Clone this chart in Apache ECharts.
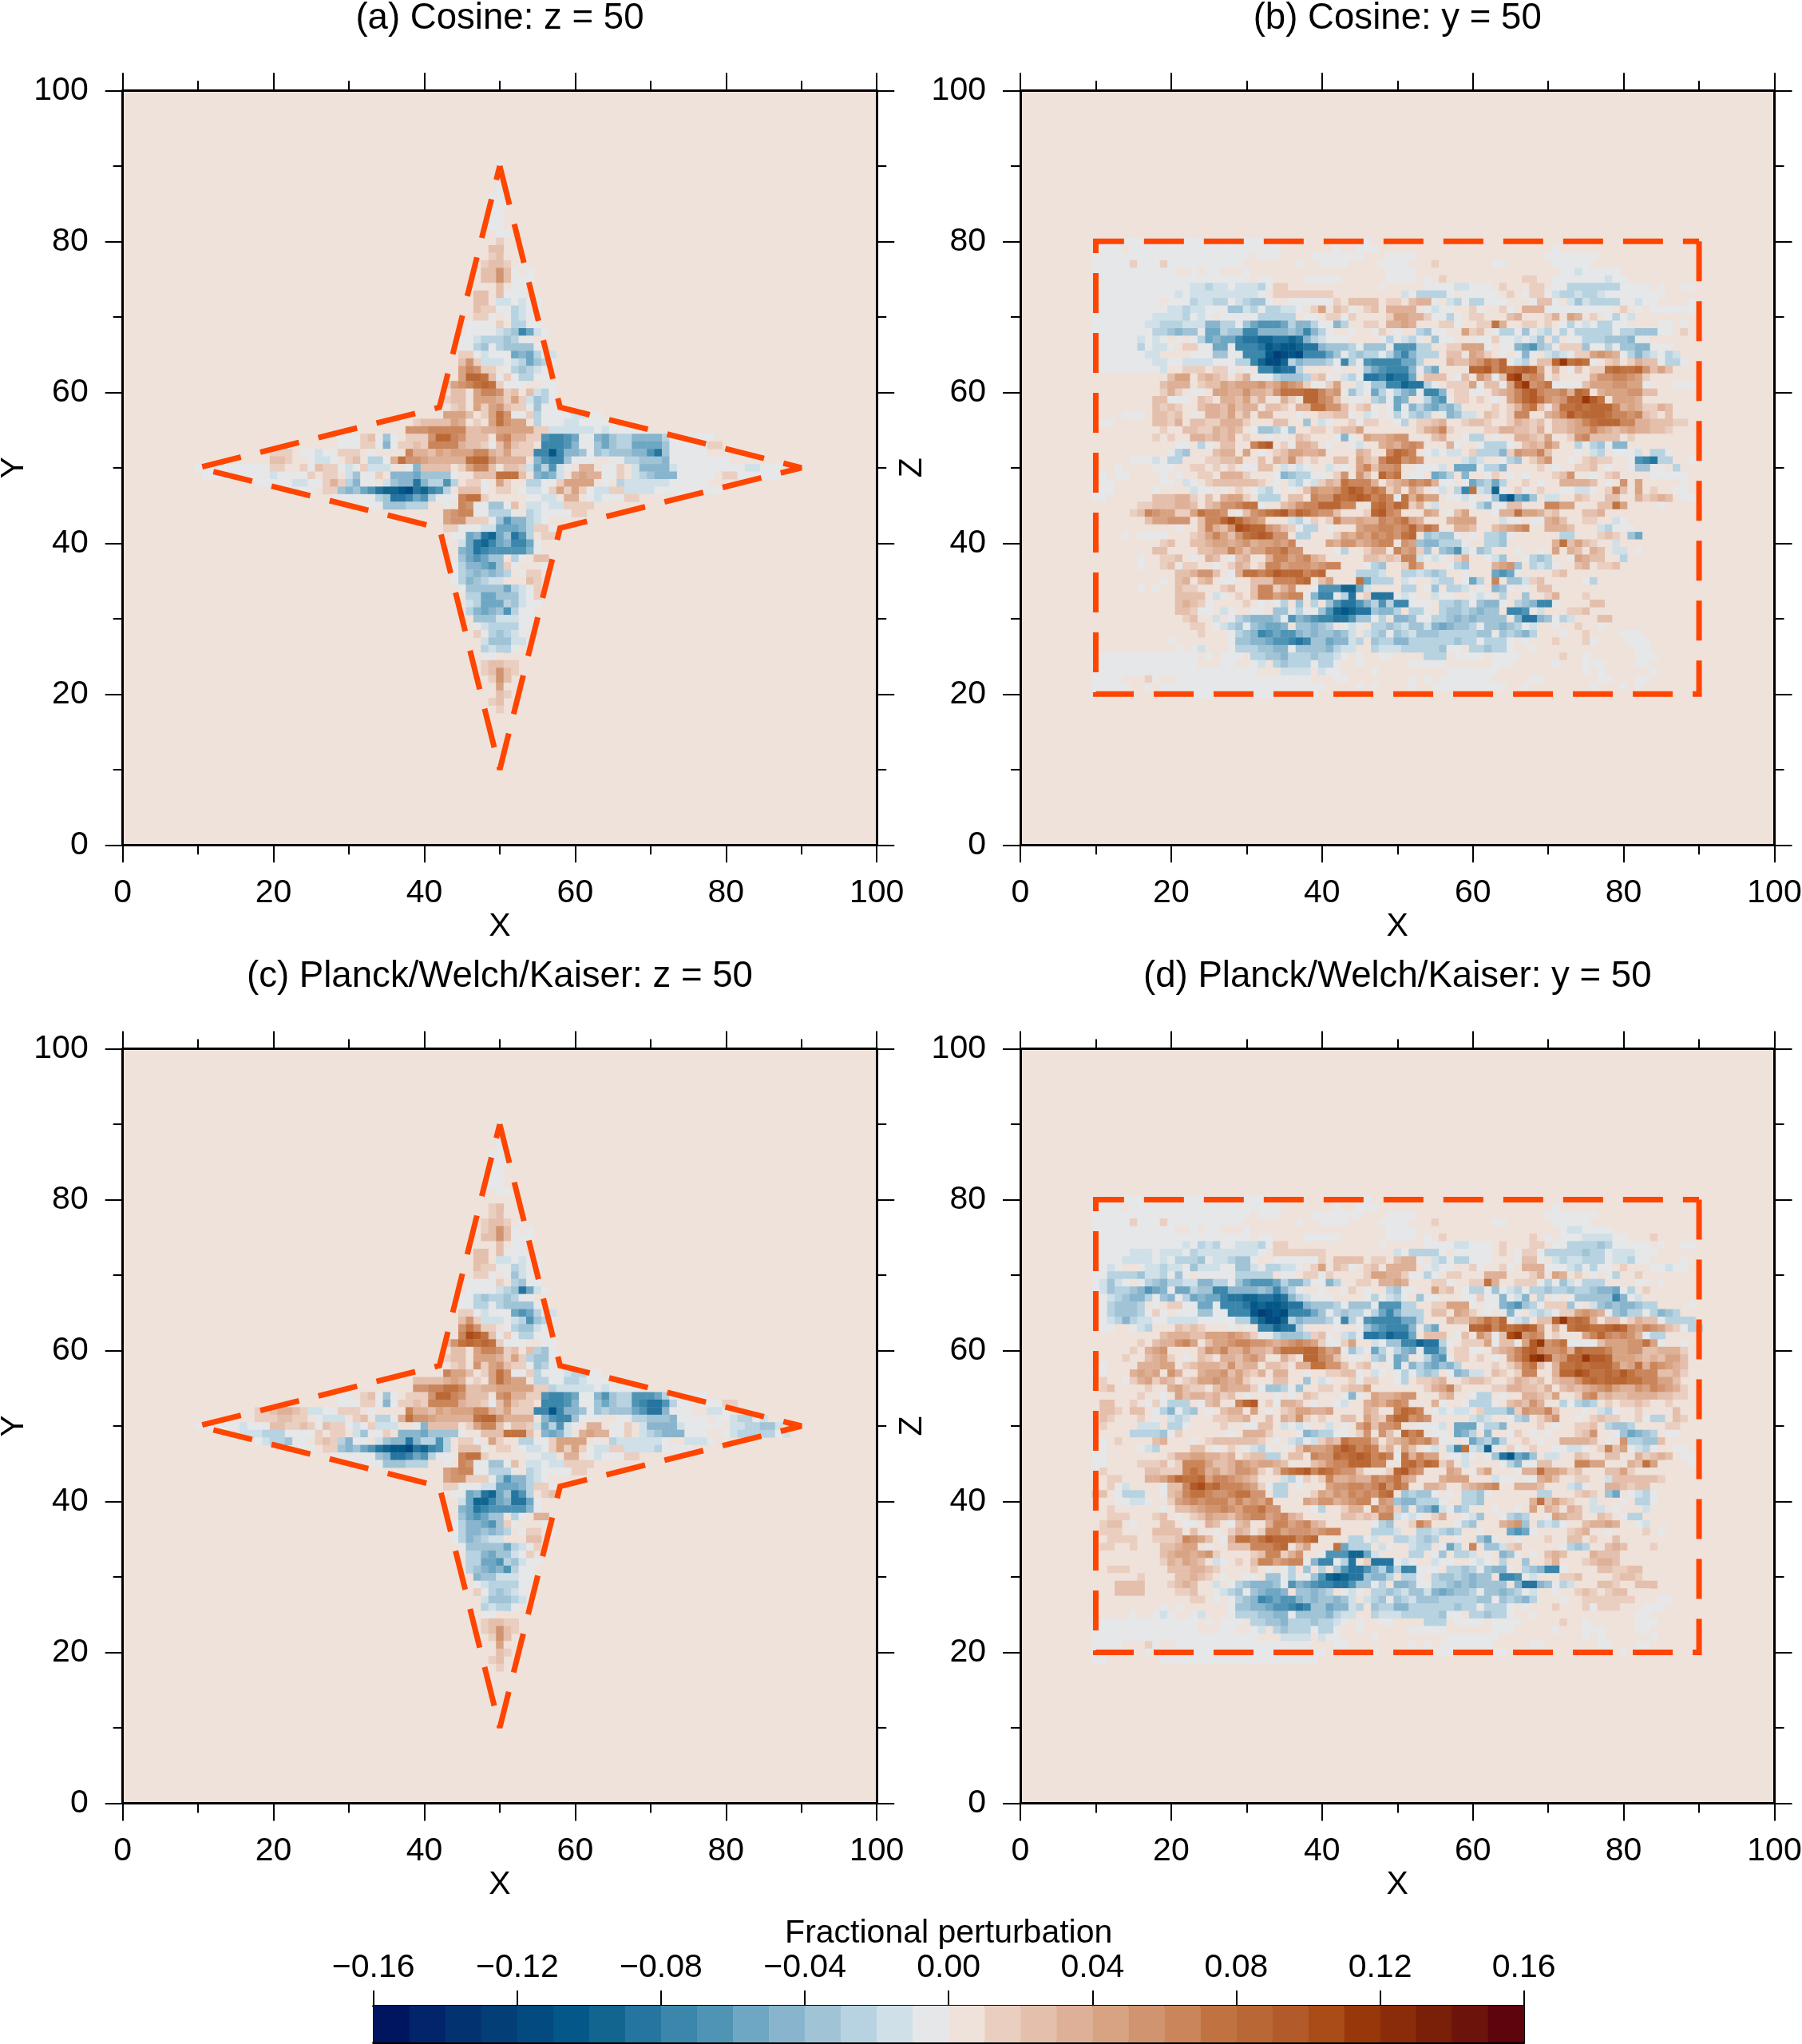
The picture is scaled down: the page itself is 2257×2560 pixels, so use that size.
<!DOCTYPE html>
<html><head><meta charset="utf-8"><style>html,body{margin:0;padding:0;background:#fff}#c{width:2257px;height:2560px}</style>
<script src="https://cdn.jsdelivr.net/npm/echarts@6/dist/echarts.min.js"></script></head><body><div id="c"></div>
<script>
const levelColors=["#00155F","#02246B","#033270","#033E77","#024A7F","#045789","#11658F","#2675A0","#3B86AB","#5094B5","#6EA7C3","#88B5CD","#A0C3D6","#B7D2E0","#CFE0E8","#E6E7E9","#EEE2DB","#EACEC0","#E4BFAC","#DEB097","#D8A382","#D19470","#CA855A","#C07340","#B96734","#B25A29","#A94C18","#98380A","#8A2C0A","#7A1F08","#6C130C","#5E040C"];
const negCodes=".abcdefghijklmno";   // -0.005, -0.015, ...
const posCodes=",ABCDEFGHIJKLMNO";   // +0.005, +0.015, ...
const titles=["(a) Cosine: z = 50","(b) Cosine: y = 50","(c) Planck/Welch/Kaiser: z = 50","(d) Planck/Welch/Kaiser: y = 50"];
const starOutline=[[50,90],[58,58],[90,50],[58,42],[50,10],[42,42],[10,50],[42,58],[50,90]];
const rectOutline=[[90,80],[90,20],[10,20],[10,80],[90,80]];

// star rows run from y=90 down; "n|codes": first code is at x=10+n
const starA=[
"40|.","40|.","40|.","40|..","39|...","39|...","39|..","39|..","39|..","40|..",
"40|A","39|BB","39|AB,","38|ABBA,.","38|BBEB.,.","38|BBEB...","38|,,B,..","37|BB,B...","37|BB,aa.a..","37|BAA..ba..",
"37|AA.,.ba.","36|....A,bb..","36|....abcgea.","34|...abbbcb..","34|...bc.bcccc.","35|AA.a...edeb.a","35|BEAaaa.abecb.","35|DFEAA,.bcba.","35|DHHGB.A.bb..","33|ADEFGHGA...,,..",
"33|,BB,DFFEAB,Bab.","33|ABB,DDDCADAacb.","32|.,AB,DADEBAA.c..","33|DDDB,ADGE..Ab....aa..","29|ABBBBDC,A,DGEDD,b...aa....,","28|EEEFFFFFBBCCDDDDDAAaaaaaa.a.....",
"19|...AB.c.,AAAEHHFEBBB,EFCCAAfggfe..decbbddddb......",
"19|...AA.d.AABAFFFFCBBA.BEBAA,gggfd..cecbbeeeec.....AA",
"10|AAA,..a..AAA,.,,,,FCCBDCDDDFFCBDAAAggjgddc.cbcccddfhc.....",
"10|BBA,,.aa.,AB,bb.CGEEDCCCCCGHHECCCC,dfggc...,,..bbcccd........",
"0|..........AA,,A.BAA.a.Aaaa,,.dBBBB,ADFFB,BBAaebfa.,CC,..A,adddda.........aa....",
"1|.........a....A,AA,ac..A,dddecccc.,,BBBGGGB,deda,CDCC..A,abcddd.....,AA......",
"8|.....aa..ACAbd..,acddhdbbfb,AA.,DA,,bb..ADDDD,.,baaaaaa.....,",
"13|...,AAcdcefhiijkhigfb,BBB.,AA,.aa.ADADA.aaAAaaaa.........,",
"18|......bchhgefb...FGGA,,,,,..aa,CC,.a...AA,,,",
"21|....cccbbb,,.,FE..cc.B,aa.aaAAAA,",
"32|,DEFF..bbb.,ba....AA",
"33|DEEAAA.cfddba.,",
"33|AA...aaeeedbAA.",
"34|..edhiechfb,AA",
"35|aehigedgge.",
"35|dehgfffffd.",
"35|cefecc,b.,BB",
"34|.bddefcA.,,,.",
"34|.bcdcdcb,.AA,.",
"34|.bdcbaa,,,BA",
"35|.ccccceba.A",
"36|bbeeccca.A",
"36|abeeebca..",
"36|bdedcfb..",
"37|cccaaa..",
"37|.abbbb..",
"37|A.bcba.",
"38|acccaa.",
"38|babb.",
"38|..,",
"38|ABBAA",
"38|ABEBA",
"39|AEB",
"39|,D,",
"39|,BA",
"39|AB",
"40|A"];

const starC=[
"40|.","40|.","40|.","40|..","39|...","39|...","39|..","39|..","39|..","40|..",
"40|,","39|AB","39|AB,","38|ABBA,.","38|ABEB.,.","38|BBEB...","38|,,B,..","37|BB,B...","37|BB,aa.a..","37|BAA..ba..",
"37|AA.,.ca.","36|....A,bc..","36|....abchea.","34|...bcbbcb..","34|...bb.bcccc.","35|AA.a...efeb.a","35|BEAaaa.abfcb.","35|EGEAA,.bcca.","35|FJIGB.A.bb..","33|BEGHGHGA...,,..",
"33|,BB,DFFEAB,Bbc.","33|ABB,DDDCADAbcc.","32|.,AB,EADEBAA.cb.","33|FDDB,ADGE..Ab...abb..","29|BBBBCDC,A,DGEDD,bb..bba...,,","28|,EEFFGGFBBCCDDDDDAAbaaaaa.a....",
"19|..,AB.c.,AAAEHHFEBBB,EFCCAAfggfe..dfcbbfffeb.....,,",
"19|...AA.d.AABAFFFFCBBA.BEBAA,gggfd..cecbbfghhfb..,...AA",
"8|AABCCBAaa..AAA,.,,,,FCCBDCDDDFFCBDAAAggjgddc.cbcccefhhd...,,aa.",
"8|AAABBAA,.aaa,AB,bb.CGEEDCCCCCGHHECCCC,dfggc...,,..bbcccd....,..abb.a",
"0|......a...BBAABA.BAA.a.Aaaa,,.dBBBB,ADFFB,BBAaebfa.,CC,..A,adddda.....,aabbcca..",
"6|aaabbb....A,AA,ac..A,dddecccc.,,BBBGGGB,deda,CDCC..A,abcddd...,,.abbbbb.a",
"8|.abbc..,ABAbd..,acddhdbbfb,AA.,DA,,bb..ADDDD,.,baaaaaa.,,aaa.",
"13|...,AAcdcefhijjkhigfb,BBB.,AA,.aa.ADADA.aaAAaaaab....,",
"18|......cdhhgefb...FGGA,,,,,..aa,CC,.a...AA,,,",
"21|....cccbbb,,.,FE..cc.B,aa.aaAAAA,",
"32|,DEFF..bbb.,ba....AA",
"33|DEEAAA.cfddba.,",
"33|AA...aaeeedbAA.",
"34|..edhiechfb,AB",
"35|aeiigedhhe.",
"35|dehgfffffd.",
"35|cefecc,b.,CC",
"34|.bddefcA.,,,.",
"34|.bddcdcb,.AA,.",
"34|.bdcbaa,,,BB",
"35|.ccccceba.A",
"36|bbdecca.A",
"36|bbeefbca..",
"36|bcdedfb..",
"37|dccaaa..",
"37|.abbbb..",
"37|A.bcba.",
"38|acccba.",
"38|babb.",
"38|..,",
"38|ABBAA",
"38|ABEBA",
"39|AEB",
"39|,D,",
"39|,BA",
"39|AB",
"40|A"];

// rect rows run from z=80 down to z=20, first character is x=10
const rectB=[
".........................,,,,,,,.....,,,,,,,,,,,,,,,,,,,,,,,,,,.,,,,,,,,,,,,,,,,",
"....,....................,,,,,,,.,,...,,,,,,,,,,,,,,,,,,,,,,,.,,,,,,,,,,,,,,,,,,",
".....................,...,,,,.......,,,....,,,,,,,,,,,,,,,,,.......,,,,,,,,,,,,,,",
".....A...A..........,,,,,,,.,,....,,,,....,,,A,,,,,,,..,,,,,,.....,,,,,,,,,,,,,,",
"...........,,.,..,,,.,,,,,,,,,,,,,,,,,,....,,,,,,,,,,,,,,,,,,,..a.....,,,,,,,,,,",
".....................,..,,,,.....,,,,,,....,.,A,,,,,,,,,,AA,,.......a..,,,,,,,,,",
".............aabaa.aaab.AA,,,,,,,,,,,,.,,,,,....aa...,A,,,AA,..bbbbbbb....,.,,..",
"...........a.aaaaaaaaa.,AAAAAAAA,,,,,,,,,a.bbbb.,.....,A,.AA.abbabba........,,,,",
".........,...baabb.abcc.,,......A,BBBB,AA,BCC.,ab.bb...,,,.BB.,acabbbb..a..,,,,.",
"..........aabaa...ccab.bbaa.,AD,BA.,AB,CCCC,.a..,,A.,,A.,CCC.........,A,.,.......",
"........aaaab.a.,.....bbbbb,..,AA.A,,,,ADDCCA..b.,AA,,,BC,,,AC,DC,A,.b.a,,,,,,,,",
".......aabbbaaaddbb.cefffebddb..db,,AA,CCDC,,,AA.,,AAGC,,AA,A,.b.a.bb..,,,,..,.,,",
"........bbcdcc.eebccggddddcdgdb.,,.,,.A,.,,bc..,,DAB,.bb.c.ab.b.bbbbb.bbccc..,A,,",
"......a.a.,.,.bedeeghhiihhihdba...,,,,.b.ab.,c..,,,..A..a.ac,b,..bbbcccd..,,,,,,",
"......b.aa.,AA..ee.ggghjijjihhdcccb.ccc.fffbb,,AADDD.,..defcb.AAAc..b.ccdd...,,,,,.",
".......aa,,,,...cc..gggjlkjkgggec.bcbb.begdbbb,BB,DCA,.,.d.,aba.AADEDC.bdba.ba,,,,,",
"........aa..aaaa...bbgikkibdcccb.gb.fggggeeb,,,CBBDEGFH.ab,BBHKGHG.,AB,ACBB.bb.",
".........a,,AAA,AA.,.,ggihhb,,,,.,,.cefgggd.ce,,,,HHIFHGHIHD,C,.B,AAGHGGHEBDB,,,,.",
",,,,,,,,,,BDD,BCBA,AC...bcccbAB.,ab.hhgihhe,BBB,.B,EC.BJKEFE,A,,,,CEEFFEDA,,,",
",,,,,,,,,BCCC,ABBDCDDDECDFEDA..AD,,a.ccggihhb.,AAAD.BB.DIKEFG....BDDDEEDD.,,,...",
",,,,,,,,,ACA,..,DDCCECCBEGGGHHFDE.ca.eb.bde.ggd,AA..,BCDFHIFEEFCHG,CDDDEEBB,,,,",
",,,,,,,,BB...,BA,CCBDAC,,CA,HHFEB,..,bc.ed,.bef.AA,A,.,DFHIGEDEHHKIG,DDDC,,,,,",
",,,,,,,,BABA,,BCCBDBCC,BBA,CCGGEEB,AB.,.e.dbdecdb,,,,A,ACFGB,CGGHGHHHFCDCAACB,,",
",,,,...,BBAB,.,CCBDAC,CC,,,.,,AABB.,a.,.b.bcb,.dcaa,BA,AFF,,CDFIGHHHGFFEFBA,B,,",
"...,,,,,BBAC,BBAACCCA,,,BB,,c,a.,,A.AA,,.b,AABC,,ABBA,,ACBAB,BBCDFGHHHFFCCBBBAA",
",,,,,,,,,A,,BBAACBCB,.ccb.c,,AA,ABBD,,,,,,,ACDFA,,,,AACCBBAC,BBCDDFDCBCDCCBBA,,",
",,,,,,,,A,A,,CCBCBC,A,,.,.,BA,,,.d.,DCCDEE,,,BC,,.bb,.,,CCBAD,,AEFBBBB,A,,,,,,,",
",,,,,,,,,,,..,b.,BB,,FHI,A.CCB,.,,.a,,CDCEFE,,,C.,,.bbb.,BCBEC,,b.bc.dd,,,,,,,,,",
",,,,,,,,,,.bc,,,BCC,D,.,ABDDCCD,,,,CB,,FHGF,.a.aa,AbbbdAEDDFB,,,.,ab,...a,bb.,,,",
",,,,,...a.bb,,,AABBC,,B,CBEA,A,,BB,DBAFHHEFE,,,,,aba,,.bc,ACE,,.,ABAA,,.fghbb,,..",
".,,.,,,,...,,AA,A,A,..BB,a.a.,,a,.,DFBEEF,,...a,eee.bbd,,,,A,.,,AAB,.,,.cc..,b,,",
"..,..,,,,.,.,,AA,CCCA,,,.dcbb..,AE,EB,HFG,..,edb,d,,.A,.,.,,,ABE,,.,AB,,,,.....",
",..,,,,,,..,a.,ABBBBBBA,.,ab.aACBGFFFC,BCDFEFC..,.ecbeb,,A,.,,CCCCB,.,E,D,,,,,.",
"...,,,,,.,,,,a..,.,A,.ab.,.,BEDDEGIHFGFAC,DB,.a,bgGabi.,A.,A,,..aa.,AFB,D,A,,..",
"..,,,,,,BBBCCA,B,CDDA,bbb,BB,FEEHGHIHFGF.GCFDD,..a.,.chjefc,aa,,BA,,BB,,CABCB,...",
",,,,,,AABBBCCB,BCEEFGG.,,BCEFFHHHFF,,GHFHGAC,a,,,,.bd..BB,,,FFDD,,,BBGD,,,,.",
",,,,,ABFEDDAADGFFE,.BEFGHIFHGFEEB,,,AHIFE,,,DC,.BD,,,.CCGDDCAB,,,BBC,,,",
",,,,,,,BDDEEE,BFFHJHFED,,,ab.A,AFCCDCCFEFGDC,,,CDDD,,,a..,..CDB,,AA,,a.,,",
",,,,,,,,,,,.,,BFCBEJIHHEDBA.bb,.,,,DEEFFEFHEGF,,CCB,,BCDEF,,CCCB,,,ab...,,,,",
",,,,.,....,,,ABDFDBEGHIHEE,bb,,,ADCEDFEFEGH,cbcc.,.,bbc.,,,,,,bb,,,ABA,ce,,",
",,,,,,,,,AB,,BBCDDCDECDDEDF,,,,DCEECDEFF,EDcddbbb.,,bbc,,,,,,CGBDBA,,a,,,,,,",
",,,,,,,,BB,,,,BBCCFDBDDFFGEE,,,,.b,,ACC,FDEAc,cdfa.cb,,,.,,.,D,CB,CB,aa,.,,,",
",,,,,,.,,AAB,.,CB,.BC,,CFFDEFCB,,,,,BBABAFFa.a.,AC,,.ac,,.bcb,,.DCBB,,b,,,,,",
",,,,,,.,,AB.AA,,.,ACB,AFFDEEEDEFF,,,.bc,,AFD,,,.bc,,,CDEc,bab.,,BC,AAB,,,,,,,",
",,,,,,,,,,,BBCEEB,.CGGFGIHHHFGH,,,,bbba,,bbabcb,,.,,,efe.,,,,AB,,,,,,,,,,,,,",
",,,,,,,,,.,BC,BC,..,,BBBFFFGH,BD,,,Gebbb,a.,,abb,.eb,F,ccaAB,,,,,.b,,,,,,,,",
",,,,,,.,.,,BAA,,,AB,,BFFACE,,.fffiiea,,,,bb,.c,bba,.,dc.,.,BB,,,,,,,,,,,,,,",
",,,,,,,,,,,BBBB,a.,A,BFFDEFF.dgg.bh,Ahhh.a.,,a..,,.a.,b,,c,,AC,,,A,,,,,,,,,,",
",,,,,,,,,,,BCBA.,,,,A,.,.b,c,b,cfhhfdbfbgg...,bbcb.cdd.,bcdgg.,,,,BB,,,,,,,,",
",,,,,,,,,,,BBA..,a.,,..,cc.b..cfijihhcddb,bb.,bccbcdcc,ggf.a,,,AAB,,,,,,,,,",
",,,,,,,,,,,,AB,,a,.bcdddc.fdefgghhfcc.b,ddc..bbcdcdcccc,dhhdc.ba,,,BB,,,,,,",
",,,,,,,,,,,,,AA,.abc.cdeed,ccdcb,.a.,bbcbaccadedccb.ccdcb.a,,.,,A,,.,,,,,,",
",,,,,,,,,,,,,,A,,,.bcdgfeffdcdccdca,abc.cbacccbbbbbcc.cbcdb,,,.,,A,,,,...",
",,,,,,,,,,.,,,,,,,.ccddeffghgcceddab,cbbddbbbbbbcbb.bbb.,.,,,A,,,A.,,,,...",
",,,,,,,,,,,.,.a,,,.bbbccdd.ccccdbaa,,baaabbbbbc..,bbcbb.,,.,,,,,,,,,,,,,..",
"..............,.,...,bbccdbbbcbba.,.,,..,,,,bbb,....,....,,,,,A,,.,,,,,,...",
"..............,,,..,,.a,bcbbb.bb.,,.,,,,,,.....,,,,,,...,,,,,.,,,...,,,,..",
"......................,,,aaaa,a..,,,,.,,,,,,,,,.......,,,,,,,,,,,.,.,,,,,,.",
"....,,,A.,,..................,,,..,,,,,,,,.,.,.......,,,,,..,,,,,,,..,,,..,,,",
".....,,.,......................,,,,.,.,,,,.,,..........,,.,,,,,,,,.,,,.,.,,,,",
"..,,,,,,,.....................,,,,,,,,,,,,,,,,,,,,,,,,,,,,,,,,,,,,,,,,,,,,,,"];

const rectD=[
".........................,,,,,,,.....,,,,,,,,,,,,,,,,,,,,,,,,,,.,,,,,,,,,,,,,,,,",
"....,....................,,,,,,,.,,...,,,,,,,,,,,,,,,,,,,,,,,.,,,,,,,,,,,,,,,,,,",
".....................,...,,,,.......,,,....,,,,,,,,,,,,,,,,,.......,,,,,,,,,,,,,,",
".....A...A..........,,,,,,,.,,....,,,,....,,,A,,,,,,,..,,,,,,.....,,,,,,,,,,,,,,",
"...........,,.,..,,,.,,,,,,,,,,,,,,,,,,....,,,,,,,,,,,,,,,,,,,.aa....,,,,,,,,,,,",
".....................,..,,,,.....,,,,,,....,.,A,,,,,,,,,,,A,.,...aaaa..,,,A,,,,,,",
"............a.bab..aaab.AA,,,,,,,,,,,,.,,,,,....aa...,A,,,AA,..bbbbcb.....,.,,..",
".....aaa.aaa.baaaaaaaa.,AAAAAAA,,,,,,,,,a.bbbb.,.....,A,.AA.bbbbbcbb.aaa...,,,,",
"....aaaa.a.bbbc.aabcc.,,......A,BBBB,AA,BCC.,ab.bb...,,,.BB.,abaabbb.aab..,,,,.",
"..a.,,.aabaa.caaa..cca.bbaa.,AD,BA.,AB,CCCC,.a..,,A.,,A.,CCC...ab.b..,A,,,..a..,",
"..bbbbcaab.c.,.....bbbbb,..,AA.A,,,,ADDCCA..b.,AA,,,CCC,,,AC,DC,A,.,.b,,A,,,,,,",
".aca.,.bcdbbaaddbb.cefffebddb..db,,AA,CCDC,,,AA.,,AAGC,,AAA.b.ca.bbb,,,,..,.,,",
".acbbcdfed.eebccggddddcdgdb.,,.,,.A,.,,bc..,,DAB,.bb.c.ab.bbcbbcbbcdde.b,A,,",
"..abcddb.cd.bedeeghhiihhihdba...,,,,.b.ab.,c..,,,..A..d.ad,b,.,.cccccgd.a,,,,,,",
"..bcccb,.,AA..ee.ggghjijjihhdcccb.ccc.fffbb,,AADDD.,..defcb.AAAc.,acdcddcbb,,,,.",
"..bcccb.A.,...cc..gggjlkjkgggec.bcbb.begdbbb,BB,DCA,.,.d.,aba.AADEDC.cdbb.bdcb,,,",
"..abdbaa..aaaa.....bbgikkibdcccb.gb.fggggeeb,,,CBBDEGFH.ab,BBHKGHGC,BB,ACBB.bbbb",
"...,,.ab,,,BABA,,,.,.,ggihhb,,,,.,,.cefgggd.ce,,,,HHIFHGHIHD,C,GHHGGHIHEDFEDBA.bbbb.",
",,,,,,,,,BCCCBBDDDEDCA..bcccbAB.,ab.hhgihhe,BBB,.B,EC.BJKEFE,A,,,DFHFEFEC.bb",
",,,,,,A,BCCEFD,BDDEFFEEDCDEFEDA..AD,,a.ccggihhb.,AAAD.BB.DIKEFG....BDDDEEGD.,,.",
",,,,,A,CDE,,,,BEDFCCECCBEGGGHHFDE.ca.eb.bde.ggd,AA..,BCDFHIFEEFCHGGGFDDEEBBCCCA",
",,,,A,,BCDA,.,BA,CCBDEC,,CA,HHFEB,..,bc.ed,.bef.AA,A,.,DFHKLIDEHHKIIHDDDCBCBDDB",
",.,,,,CCCDD,ABCCCBEBCC,BBA,CCGGEEB,AB.,.e.dbdecdb,,,,A,ACFGB,CGGHGHHHFCDGCFEDCB",
"..,,,CDCD,EC,,CDDEBDBAC,CC,,.,,AABB.,a.,.b.bcb,.dcaa,BA,AFF,,CHHJIGGHGIGFFFBBCA",
",A,,.ACDACB,ABDDEDCDA,,,BB,,c,a.,,A.AA,,.b,AABC,,ABBA,,ACBAB,BCCEGHGHHHGGFFDDB",
",AB,,,,A,,CDBAA,BDCCCA.ccb.c,,AA,ABBD,,,,,,,ACDFA,,,,AACCBBAC,BCBCDEFDCCEDFEDCA,",
",,,,,,A,,.,DBCCBCAB,.,,,.,.,BA,,,.d.,DCCDEE,,,BC,,.bb,.,,CCBAD,,AEFBCBBCCCCBBAA,",
",BB,,A,.A.bbb,.BC,,FHI,A.CCB,.,,.a,,CDCEFE,,,C.,,.bbb.,BCBEC,,b.bcb,A,AABA,,A,,",
",BBA,BB,.bd.bc,.,BCC,D,.,ABDDCCD,,,,CB,,FHGF,.a.aa,AbbbdAEDDFB,,,.,ab.,,A,,,,B,,",
",BA,,,A,.,aba,,,AABBC,,B,CBEA,A,,BB,DBAFHHEFE,,,,,aba,,.bc,ACE,,.,ABAA,,A.bb,BA,",
",A,,,,aaa,bb.,,,,A,,..BB,a.a.,,a,.,DFBEEF,,...a,eee.bbd,,,,A,.,,AAB,bccb,,,,AA,",
".,,,,bbbbc.A,,,,,,.,CCCA,,,.dcbb..,AE,EB,HFG,..,edb,d,,.A,.,.,,,ABE,,.cedcb,..,,",
"..,A,,,,BC,,,.,ABBBBBBA,.,ab.aACBGFFFC,BCDFEFC..,.ecbeb,,A,.,,CCCCB,.,EbbccB,,,",
"..,,,,.ab,,,,BB,.,A,.ab.,.,BEDDEGIHFGFAC,DB,.a,bgGabi.,A.,A,,..aa.,AFBD.ab.,,..",
"..,,,,,,,,ACCDDCCBC,ABBbb,BB,FEEHGHIHFGF.GCFDD,..a.,.chjefc,aa,,BA,,BB,,CABCB,...",
"..,,,,AAAB,AFFFDBBCEDCDDCB,,,BCEFFHHHFF,,GHFHGAC,a,,,,.bd..BB,,,FFDD,,,CBGD,,,,.",
".A,,,,,BBAAAFGFCDBCEEDA,BFGHIFHGFEEB,,,AHIFE,,,DC,.BD,,,.CCGDDCAB,,,BBDA,,,,",
",,AA,,,CCDFHGGHDFFEDCB,,,ab.A,AFCCDCCFEFGDC,,,CDDD,,,a..,..CDB,,AA,,aBBBBBBA,",
",,A.a,,,,.BBFIJGHFFFEDA.bb,.,,,DEEFFEFHEGF,,CCB,,BCDEF,,CCCB,,,ab.,,CCBABB,",
"BB,.bbb,,.BCFGGFEEFGGEE,bb,,,ADCEDFEFEGH,cbcc.,.,bbc.,,,,,,bb,,,ABA,ce,.ab.,",
",,,..aa.,,ADEFEFFFDFDEDF,,,,DCEECDEFF,EDcddbbb.,,bbc,,,,,,CGBDBA,,a,,,.,bb.,",
",,A,,,,,,.,BBCDEEFEDFFGEE,,,,.b,,ACC,FDEAc,cdfa.cb,,,.,,.,D,CB,CB,aa,.,,,a,,",
",,AAA,,,AB,.,ABDCCBDEFFDEFCB,,,,,BBABAFFa.a.,AC,,.ac,,.bcb,,.DCBB,,BA,.bb,,",
",ABB,.,,,BB,..,CB,.BC,,CFFDEFCB,,,,,,.bc,,AFD,,,.bc,,,CDEc,bab.,,BCCDC,,.a,,",
",AAA,,,,BBBB,B,,.,ACB,AFFDEEEDEFF,,,,bbba,,bbabcb,,.,,,efe.,,,,ABC,,.,,,,A,.",
",,AAAA,,AAABFEDB,.CGGFGIHHHFGH,,,,bb.a,,bbabcb,,.,,ce.,,.,,,A,,BB,A,,B,,,,",
",AA,,A,,,BBCDD,.,,BBBFFFGH,BD,,,Gebbb,a.,,abb,.eb,F,ccaAB,,,,,.bcb,,BCB,,,A,",
",,,,,,,,,BCDDCDEA,,,,ABFFACE,,.fffiiea,,,,bb,.c,bba,.,dc.,.,BCB,,,CBBB,,,,,",
",,,,,,,,,ACBDCB,a.,A,BFFDEFF.dgg.bh,Ahhh.a.,,a..,,.a.,b,,c,,AC,,,ABCCB,,,,,",
",,AAA,,,,,BBBCCBA,,,,A,.,.b,c,b,cfhhfdbfbgg...,bbcb.cdd.,bcdgg.,,,,BBAABB,,,,",
",,,,,,A,,,,BBCBA,.,,..,cc.b..cfijihhcddb,bb.,bccbcdcc,ggf.a,,,AAB,,,,ABBA,,",
",,,BBBB,,,ABCB,,a,.bcdddc.fdefgghhfcc.b,ddc..bbcdcdcccc,dhhdc.ba,,,BBA,,BBB,",
",,,BBBB,,,,AAB,,.abc.cdeed,ccdcb,.a.,bbcbaccadedccb.ccdcb.a,,.,,ABA,ABB,,,",
",,,,,,,,,,,,,AA,.,.bcdgfeffdcdccdca,abc.cbacccbbbbbcc.cbcdb,,,.,,AAAAAAA,,,..",
",,,,,,,,,.,.,,,,,,.ccddeffghgcceddab,cbbddbbbbbbcbb.bbb.,.,,,A,,,A.AAA,,,...",
",,,,,.,,.a.,,.a,,,.bbbccdd.ccccdbaa,,baaabbbbbc..,bbcbb.,,.,,,,,,,,,,,,,..",
"..............,.,...,bbccdbbbcbba.,.,,..,,,,bbb,....,....,,,,,A,,.,,,,,,...",
"..............,,,..,,.a,bcbbb.bb.,,.,,,,,,.....,,,,,,...,,,,,.,,,...,,,,..",
"......................,,,aaaa,a..,,,,.,,,,,,,,,.......,,,,,,,,,,,.,.,,,,,,.",
"....,,,A.,,..................,,,..,,,,,,,,.,.,.......,,,,,..,,,,,,,..,,,..,,,",
".....,,.,......................,,,,.,.,,,,.,,..........,,.,,,,,,,,.,,,.,.,,,,",
"..,,,,,,,.....................,,,,,,,,,,,,,,,,,,,,,,,,,,,,,,,,,,,,,,,,,,,,,,"];

function decode(rows,topY){
  const out=[];
  rows.forEach((raw,r)=>{
    let row=raw,off=0;
    if(raw.indexOf('|')>=0){const s=raw.split('|');off=+s[0];row=s[1];}
    for(let i=0;i<row.length;i++){
      const ch=row[i];
      if(10+off+i>90)break;
      let v=null,n=negCodes.indexOf(ch),p=posCodes.indexOf(ch);
      if(n>=0)v=-(n+0.5)/100; else if(p>=0)v=(p+0.5)/100;
      if(v!==null)out.push([10+off+i,topY-r,v]);
    }
  });
  return out;
}
const colorOf=v=>levelColors[Math.max(0,Math.min(31,Math.floor((v+0.16)*100+1e-6)))];
function renderCell(params,api){
  const x=api.value(0),y=api.value(1);
  const a=api.coord([x-0.5,y+0.5]),b=api.coord([x+0.5,y-0.5]);
  return {type:'rect',shape:{x:a[0],y:a[1],width:b[0]-a[0]+0.4,height:b[1]-a[1]+0.4},style:{fill:colorOf(api.value(2))}};
}
const F='"Liberation Sans",Arial,sans-serif',FS=41,TFS=45.6;
const panels=[
 {left:153.7,top:113.3,yName:'Y',yGap:112,data:decode(starA,90),outline:starOutline},
 {left:1278,top:113.3,yName:'Z',yGap:112,data:decode(rectB,80),outline:rectOutline},
 {left:153.7,top:1313.5,yName:'Y',yGap:112,data:decode(starC,90),outline:starOutline},
 {left:1278,top:1313.5,yName:'Z',yGap:112,data:decode(rectD,80),outline:rectOutline}];
const W=944.5,H=945;
const grids=[],xAxes=[],yAxes=[],series=[],titleOpts=[];
const line={show:true,onZero:false,lineStyle:{color:'#000',width:3}};
const tick={show:true,length:22,lineStyle:{color:'#000',width:2}};
const minor={show:true,splitNumber:2,length:12,lineStyle:{color:'#000',width:2}};
panels.forEach((p,i)=>{
  grids.push({left:p.left,top:p.top,width:W,height:H,show:true,backgroundColor:'#EEE2DB',borderWidth:0,outerBoundsMode:'none',containLabel:false});
  const base={type:'value',min:0,max:100,interval:20,gridIndex:i,axisLine:line,axisTick:tick,minorTick:minor,splitLine:{show:false},minorSplitLine:{show:false}};
  const common={show:true,color:'#000',fontFamily:F,fontSize:FS,hideOverlap:false};
  xAxes.push({...base,position:'bottom',axisLabel:{...common,margin:40},name:'X',nameLocation:'middle',nameGap:77,nameTextStyle:{color:'#000',fontFamily:F,fontSize:FS}});
  xAxes.push({...base,position:'top',axisLabel:{show:false}});
  yAxes.push({...base,position:'left',axisLabel:{...common,margin:43,padding:[8,0,0,0]},name:p.yName,nameLocation:'middle',nameGap:p.yGap,nameTextStyle:{color:'#000',fontFamily:F,fontSize:FS}});
  yAxes.push({...base,position:'right',axisLabel:{show:false}});
  series.push({type:'custom',coordinateSystem:'cartesian2d',xAxisIndex:i*2,yAxisIndex:i*2,data:p.data,renderItem:renderCell,silent:true,animation:false,progressive:0,z:2,encode:{x:0,y:1}});
  series.push({type:'line',xAxisIndex:i*2,yAxisIndex:i*2,data:p.outline,showSymbol:false,silent:true,animation:false,z:4,lineStyle:{color:'#FF4500',width:7,type:[50,25],join:'miter',miterLimit:2,cap:'butt'}});
  titleOpts.push({text:titles[i],left:p.left+W/2,top:p.top-113.3,padding:0,textAlign:'center',textStyle:{color:'#000',fontFamily:F,fontSize:TFS,fontWeight:'normal'}});
});
// colour bar
const cbGrid=4;
grids.push({left:467.7,top:2512,width:1441,height:46,show:false,outerBoundsMode:'none',containLabel:false});
xAxes.push({type:'value',min:-0.16,max:0.16,interval:0.04,gridIndex:cbGrid,position:'top',axisLine:{show:true,onZero:false,lineStyle:{color:'#000',width:3}},axisTick:{show:true,length:19,lineStyle:{color:'#000',width:2}},splitLine:{show:false},
  axisLabel:{show:true,color:'#000',fontFamily:F,fontSize:FS,margin:27,hideOverlap:false,formatter:v=>(v<-1e-9?'\u2212':'')+Math.abs(v).toFixed(2)},
  name:'Fractional perturbation',nameLocation:'middle',nameGap:70,nameTextStyle:{color:'#000',fontFamily:F,fontSize:FS}});
xAxes.push({type:'value',min:-0.16,max:0.16,interval:0.04,gridIndex:cbGrid,position:'bottom',axisLine:{show:true,onZero:false,lineStyle:{color:'#000',width:3}},axisTick:{show:false},axisLabel:{show:false},splitLine:{show:false}});
yAxes.push({type:'value',min:0,max:1,gridIndex:cbGrid,position:'left',axisLine:{show:true,onZero:false,lineStyle:{color:'#000',width:2}},axisTick:{show:false},axisLabel:{show:false},splitLine:{show:false}});
yAxes.push({type:'value',min:0,max:1,gridIndex:cbGrid,position:'right',axisLine:{show:true,onZero:false,lineStyle:{color:'#000',width:2}},axisTick:{show:false},axisLabel:{show:false},splitLine:{show:false}});
series.push({type:'custom',coordinateSystem:'cartesian2d',xAxisIndex:8,yAxisIndex:8,silent:true,animation:false,z:2,progressive:0,encode:{x:0,y:1},
  data:levelColors.map((c,k)=>[-0.16+k*0.01,0,k]),
  renderItem:(params,api)=>{
    const a=api.coord([api.value(0),1]),b=api.coord([api.value(0)+0.01,0]);
    return {type:'rect',shape:{x:a[0],y:a[1],width:b[0]-a[0]+0.4,height:b[1]-a[1]},style:{fill:levelColors[api.value(2)]}};
  }});
const chart=echarts.init(document.getElementById('c'),null,{renderer:'canvas',width:2257,height:2560});
chart.setOption({animation:false,backgroundColor:'#fff',title:titleOpts,grid:grids,xAxis:xAxes,yAxis:yAxes,series});
</script></body></html>
